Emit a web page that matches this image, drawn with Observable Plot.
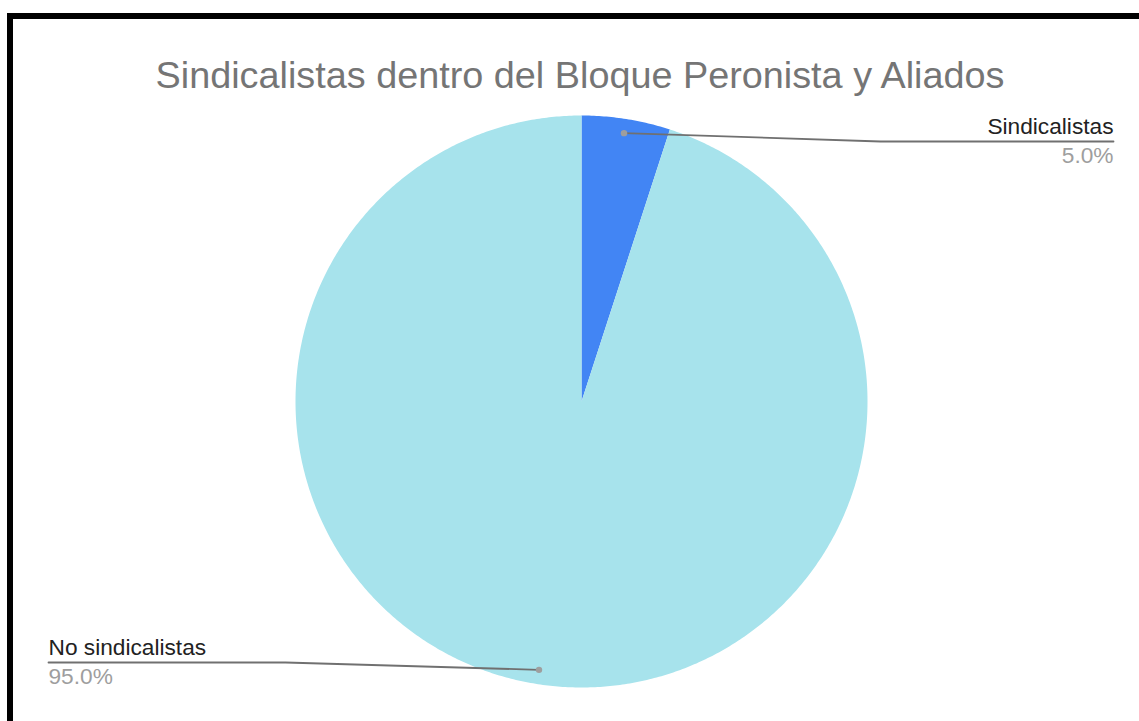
<!DOCTYPE html>
<html>
<head>
<meta charset="utf-8">
<script src="https://cdn.jsdelivr.net/npm/d3@7"></script>
<script src="https://cdn.jsdelivr.net/npm/@observablehq/plot@0.6"></script>
<style>
  html, body { margin: 0; padding: 0; background: #fff; }
  #wrap { position: relative; width: 1139px; height: 721px; overflow: hidden; background: #fff; }
  #border { position: absolute; left: 7px; top: 13px; width: 1200px; height: 800px; border-left: 6px solid #000; border-top: 6px solid #000; box-sizing: border-box; }
  #title { position: absolute; left: 0; width: 1160px; top: 57px; text-align: center; font-family: "Liberation Sans", Arial, sans-serif; font-size: 37.8px; line-height: 36px; color: #757575; white-space: nowrap; }
  #chart { position: absolute; left: 0; top: 0; }
</style>
</head>
<body>
<div id="wrap">
  <div id="chart"></div>
  <div id="border"></div>
  <div id="title">Sindicalistas dentro del Bloque Peronista y Aliados</div>
</div>
<script>
// ---- data ----
const categories = ["Sindicalistas", "No sindicalistas"];
const values = [5.0, 95.0];
const valueLabels = ["5.0%", "95.0%"];
const colors = ["#4285f4", "#a7e3ec"];

// ---- layout ----
const W = 1139, H = 721;
const cx = 581, cy = 401, R = 286;
// label side / underline geometry (layout only)
const labelLayout = [
  {side: "right", lineY: 141, elbowX: 880, endX: 1113},
  {side: "left",  lineY: 662, elbowX: 285, endX: 48}
];

const rows = categories.map((c, i) => ({category: c, value: values[i], label: valueLabels[i], color: colors[i]}));
const arcs = d3.pie().sort(null).value(d => d.value)(rows);

// slice outlines, derived from pie angles
const slicePts = [];
for (const a of arcs) {
  const c = a.data.category;
  slicePts.push({category: c, x: cx, y: cy});
  const n = Math.max(4, Math.ceil((a.endAngle - a.startAngle) / (Math.PI / 360)));
  for (let k = 0; k <= n; k++) {
    const t = a.startAngle + (a.endAngle - a.startAngle) * k / n;
    slicePts.push({category: c, x: cx + R * Math.sin(t), y: cy - R * Math.cos(t)});
  }
  slicePts.push({category: c, x: cx, y: cy});
}

// leader lines
const leaderPts = [];
const dots = [];
const names = [];
const pcts = [];
arcs.forEach((a, i) => {
  const L = labelLayout[i];
  const m = (a.startAngle + a.endAngle) / 2;
  const px = cx + 0.95 * R * Math.sin(m), py = cy - 0.95 * R * Math.cos(m);
  const c = a.data.category;
  leaderPts.push({category: c, x: px, y: py}, {category: c, x: L.elbowX, y: L.lineY}, {category: c, x: L.endX, y: L.lineY});
  dots.push({x: px, y: py});
  const anchor = L.side === "right" ? "end" : "start";
  names.push({x: L.endX, y: L.lineY - 8, text: c, anchor});
  pcts.push({x: L.endX, y: L.lineY + 21, text: a.data.label, anchor});
});

const fs = 22.7;
const plot = Plot.plot({
  width: W, height: H,
  margin: 0,
  x: {type: "identity"},
  y: {type: "identity"},
  axis: null,
  style: {fontFamily: "'Liberation Sans', Arial, sans-serif", background: "transparent"},
  marks: [
    Plot.line(slicePts, {x: "x", y: "y", z: "category", fill: d => colors[categories.indexOf(d.category)], stroke: "none", curve: "linear"}),
    Plot.line(leaderPts, {x: "x", y: "y", z: "category", stroke: "#707070", strokeWidth: 1.8}),
    Plot.dot(dots, {x: "x", y: "y", r: 3.2, fill: "#9e9e9e", stroke: "none"}),
    Plot.text(names.filter(d => d.anchor === "end"), {x: "x", y: "y", text: "text", textAnchor: "end", lineAnchor: "bottom", fontSize: fs, fill: "#222222"}),
    Plot.text(names.filter(d => d.anchor === "start"), {x: "x", y: "y", text: "text", textAnchor: "start", lineAnchor: "bottom", fontSize: fs, fill: "#222222"}),
    Plot.text(pcts.filter(d => d.anchor === "end"), {x: "x", y: "y", text: "text", textAnchor: "end", lineAnchor: "bottom", fontSize: fs, fill: "#9e9e9e"}),
    Plot.text(pcts.filter(d => d.anchor === "start"), {x: "x", y: "y", text: "text", textAnchor: "start", lineAnchor: "bottom", fontSize: fs, fill: "#9e9e9e"})
  ]
});
document.getElementById("chart").appendChild(plot);
</script>
</body>
</html>
